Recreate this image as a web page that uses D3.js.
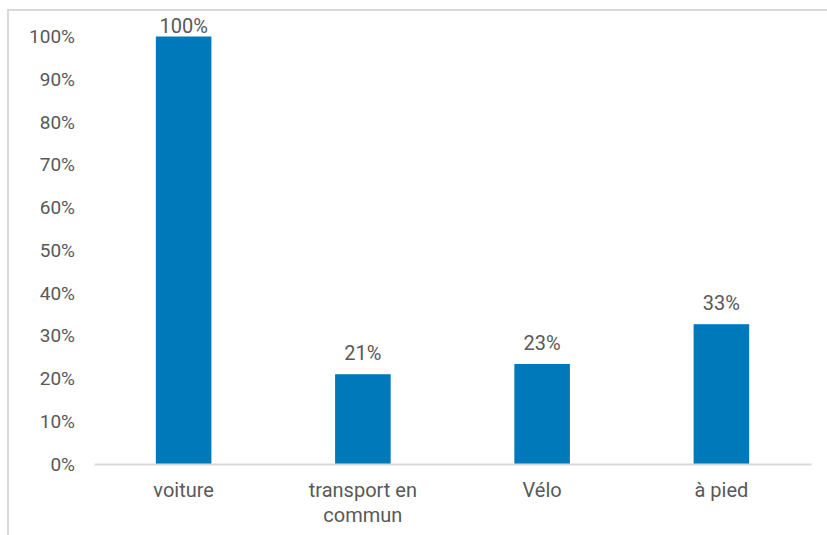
<!DOCTYPE html>
<html>
<head>
<meta charset="utf-8">
<script src="https://cdn.jsdelivr.net/npm/d3@7"></script>
<style>
  body { margin: 0; background: #fff; }
  text { font-family: Roboto, "Liberation Sans", sans-serif; fill: #595959; }
</style>
</head>
<body>
<div id="chart"></div>
<script>
// data
var categories = ["voiture", "transport en\ncommun", "Vélo", "à pied"];
var values = [1.00, 0.21, 0.234, 0.327];
var valueLabels = ["100%", "21%", "23%", "33%"];
var yTicks = [0, 0.1, 0.2, 0.3, 0.4, 0.5, 0.6, 0.7, 0.8, 0.9, 1.0];

var W = 827, H = 535;
var margin = {top: 36.5, right: 16, bottom: 71, left: 94};
var width = W - margin.left - margin.right,
    height = H - margin.top - margin.bottom;

var svg = d3.select("#chart").append("svg")
    .attr("width", W).attr("height", H);

// chart frame (only top and left visible)
svg.append("rect")
    .attr("x", 8).attr("y", 10)
    .attr("width", 840).attr("height", 560)
    .attr("fill", "none")
    .attr("stroke", "#d9d9d9")
    .attr("stroke-width", 2);

var g = svg.append("g")
    .attr("transform", "translate(" + margin.left + "," + margin.top + ")");

var x = d3.scaleBand()
    .domain(categories)
    .range([0, width])
    .paddingInner(0.69)
    .paddingOuter(0.345);

var y = d3.scaleLinear()
    .domain([0, 1])
    .range([height, 0]);

// y axis labels
var yAxis = d3.axisLeft(y)
    .tickValues(yTicks)
    .tickFormat(d3.format(".0%"))
    .tickSize(0)
    .tickPadding(19);
var ya = g.append("g").call(yAxis);
ya.select(".domain").remove();
ya.selectAll("text")
    .style("font-size", "19px")
    .attr("fill", "#595959");

// bars
g.selectAll(".bar")
    .data(values)
    .enter().append("rect")
    .attr("class", "bar")
    .attr("x", function(d, i) { return x(categories[i]); })
    .attr("width", x.bandwidth())
    .attr("y", function(d) { return y(d); })
    .attr("height", function(d) { return height - y(d); })
    .attr("fill", "#0079bb");

// value labels
g.selectAll(".vlabel")
    .data(values)
    .enter().append("text")
    .attr("class", "vlabel")
    .attr("x", function(d, i) { return x(categories[i]) + x.bandwidth() / 2; })
    .attr("y", function(d) { return Math.max(y(d) - 14, -3.5); })
    .attr("text-anchor", "middle")
    .style("font-size", "20px")
    .text(function(d, i) { return valueLabels[i]; });

// x axis
var xAxis = d3.axisBottom(x).tickSize(0).tickFormat("");
var xa = g.append("g")
    .attr("transform", "translate(0," + height + ")")
    .call(xAxis);
xa.select(".domain")
    .attr("stroke", "#d9d9d9")
    .attr("stroke-width", 2);

xa.selectAll(".tick").each(function(d) {
  var t = d3.select(this).append("text")
      .attr("text-anchor", "middle")
      .style("font-size", "20px")
      .attr("fill", "#595959");
  d.split("\n").forEach(function(line, k) {
    t.append("tspan")
        .attr("x", 0)
        .attr("y", 33 + k * 25)
        .text(line);
  });
});
</script>
</body>
</html>
